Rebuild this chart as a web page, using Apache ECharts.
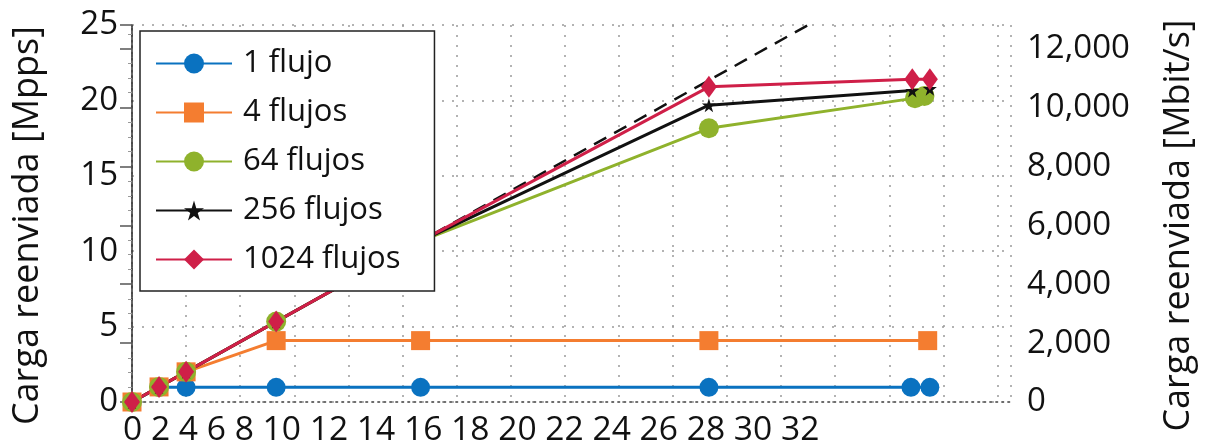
<!DOCTYPE html>
<html>
<head>
<meta charset="utf-8">
<script src="https://cdn.jsdelivr.net/npm/echarts@6/dist/echarts.min.js"></script>
<style>
  html, body { margin: 0; padding: 0; background: #ffffff; }
  #chart { width: 1209px; height: 447px; }
</style>
</head>
<body>
<div id="chart"></div>
<script>
// Offered load (x) and forwarded load in Mpps (y) for each number of flows
const x1Flujo = [0, 1, 2, 5.33, 10.67, 21.33, 28.8, 29.5];
const y1Flujo = [0, 0.97, 0.97, 0.97, 0.97, 0.97, 0.97, 0.97];

const x4Flujos = [0, 1, 2, 5.33, 10.67, 21.33, 29.42];
const y4Flujos = [0, 1, 2, 4.07, 4.07, 4.07, 4.07];

const x64Flujos = [0, 1, 2, 5.33, 10.67, 21.33, 28.95, 29.3];
const y64Flujos = [0, 1, 2, 5.33, 10.67, 18.15, 20.15, 20.3];

const x256Flujos = [0, 1, 2, 5.33, 10.67, 21.33, 28.85, 29.5];
const y256Flujos = [0, 1, 2, 5.33, 10.67, 19.68, 20.65, 20.78];

const x1024Flujos = [0, 1, 2, 5.33, 10.67, 21.33, 28.85, 29.5];
const y1024Flujos = [0, 1, 2, 5.33, 10.67, 20.9, 21.4, 21.4];

// Ideal forwarding (output equals input)
const xIdeal = [0, 25];
const yIdeal = [0, 25];

const seriesNames = ['1 flujo', '4 flujos', '64 flujos', '256 flujos', '1024 flujos'];
const xTickLabels = ['0', '2', '4', '6', '8', '10', '12', '14', '16', '18', '20', '22', '24', '26', '28', '30', '32'];

const FONT = '"Open Sans", "Noto Sans", sans-serif';
const STAR = 'path://M50,0 L61,35 L98,35 L68,57 L79,91 L50,70 L21,91 L32,57 L2,35 L39,35 Z';

function pairs(xs, ys) { return xs.map((x, i) => [x, ys[i]]); }

const dotted = { type: [2, 8], color: '#9a9a9a', width: 1.5 };
const border = { type: [1.5, 4.5], color: '#666', width: 1.5 };

function flowSeries(name, xs, ys, color, symbol, size) {
  return {
    name: name,
    type: 'line',
    data: pairs(xs, ys),
    symbol: symbol,
    symbolSize: size,
    showAllSymbol: true,
    lineStyle: { color: color, width: 3 },
    itemStyle: { color: color },
    emphasis: { disabled: true },
    animation: false
  };
}

const chart = echarts.init(document.getElementById('chart'), null, { renderer: 'canvas' });

chart.setOption({
  backgroundColor: '#ffffff',
  animation: false,
  textStyle: { fontFamily: FONT },
  grid: { left: 132, right: 198, top: 25, bottom: 45 },
  xAxis: [
    {
      type: 'value', min: 0, max: 32.5, interval: 2, position: 'bottom',
      axisLine: { show: true, lineStyle: border },
      axisTick: { show: false },
      axisLabel: { show: false },
      splitLine: { show: true, lineStyle: dotted }
    },
    {
      type: 'value', min: 0, max: 32.5, interval: 2, position: 'top',
      axisLine: { show: true, lineStyle: border },
      axisTick: { show: false },
      axisLabel: { show: false },
      splitLine: { show: false }
    }
  ],
  yAxis: [
    {
      type: 'value', min: 0, max: 25, interval: 5, position: 'left',
      name: 'Carga reenviada [Mpps]', nameLocation: 'middle', nameGap: 86, nameRotate: 90,
      nameTextStyle: { fontSize: 36, color: '#111', fontFamily: FONT, padding: [0, 24, 0, 0] },
      axisLine: { show: true, lineStyle: border },
      axisTick: { show: false },
      axisLabel: { fontSize: 33, color: '#111', margin: 14, fontFamily: FONT },
      splitLine: { show: true, lineStyle: dotted }
    },
    {
      type: 'value', min: 0, max: 12800, interval: 2000, position: 'right',
      name: 'Carga reenviada [Mbit/s]', nameLocation: 'middle', nameGap: 150, nameRotate: 90,
      nameTextStyle: { fontSize: 36, color: '#111', fontFamily: FONT, padding: [0, 24, 0, 0] },
      axisLine: { show: true, lineStyle: { color: '#333', width: 1.5 } },
      axisTick: { show: true, inside: true, length: 12, lineStyle: { color: '#555', width: 1.5 } },
      minorTick: { show: true, splitNumber: 4, length: 4, lineStyle: { color: '#999', width: 1 } },
      axisLabel: {
        fontSize: 33, color: '#111', margin: 16, fontFamily: FONT, showMaxLabel: false,
        formatter: v => v.toLocaleString('en-US')
      },
      splitLine: { show: false }
    }
  ],
  legend: {
    orient: 'vertical',
    left: 140, top: 31,
    padding: [17, 34, 16, 15],
    itemGap: 18,
    itemWidth: 76,
    itemHeight: 25,
    backgroundColor: '#ffffff',
    borderColor: '#222',
    borderWidth: 1.5,
    borderRadius: 0,
    data: seriesNames,
    textStyle: { fontSize: 31, color: '#111', fontFamily: FONT, padding: [0, 0, 0, 6] }
  },
  graphic: [
    {
      type: 'text',
      left: 123,
      top: 413,
      style: { text: xTickLabels.join(' '), font: '33.6px ' + FONT, fill: '#111' },
      silent: true
    }
  ],
  series: [
    {
      name: 'ideal',
      type: 'line',
      data: pairs(xIdeal, yIdeal),
      symbol: 'none',
      lineStyle: { color: '#111', width: 2.5, type: [14, 9] },
      emphasis: { disabled: true },
      animation: false
    },
    flowSeries(seriesNames[0], x1Flujo, y1Flujo, '#0a72c0', 'circle', 19),
    flowSeries(seriesNames[1], x4Flujos, y4Flujos, '#f47d30', 'rect', 19),
    flowSeries(seriesNames[2], x64Flujos, y64Flujos, '#8fb22c', 'circle', 20),
    flowSeries(seriesNames[3], x256Flujos, y256Flujos, '#111111', STAR, 14),
    flowSeries(seriesNames[4], x1024Flujos, y1024Flujos, '#cf1f48', 'diamond', [16, 22])
  ]
});
</script>
</body>
</html>
